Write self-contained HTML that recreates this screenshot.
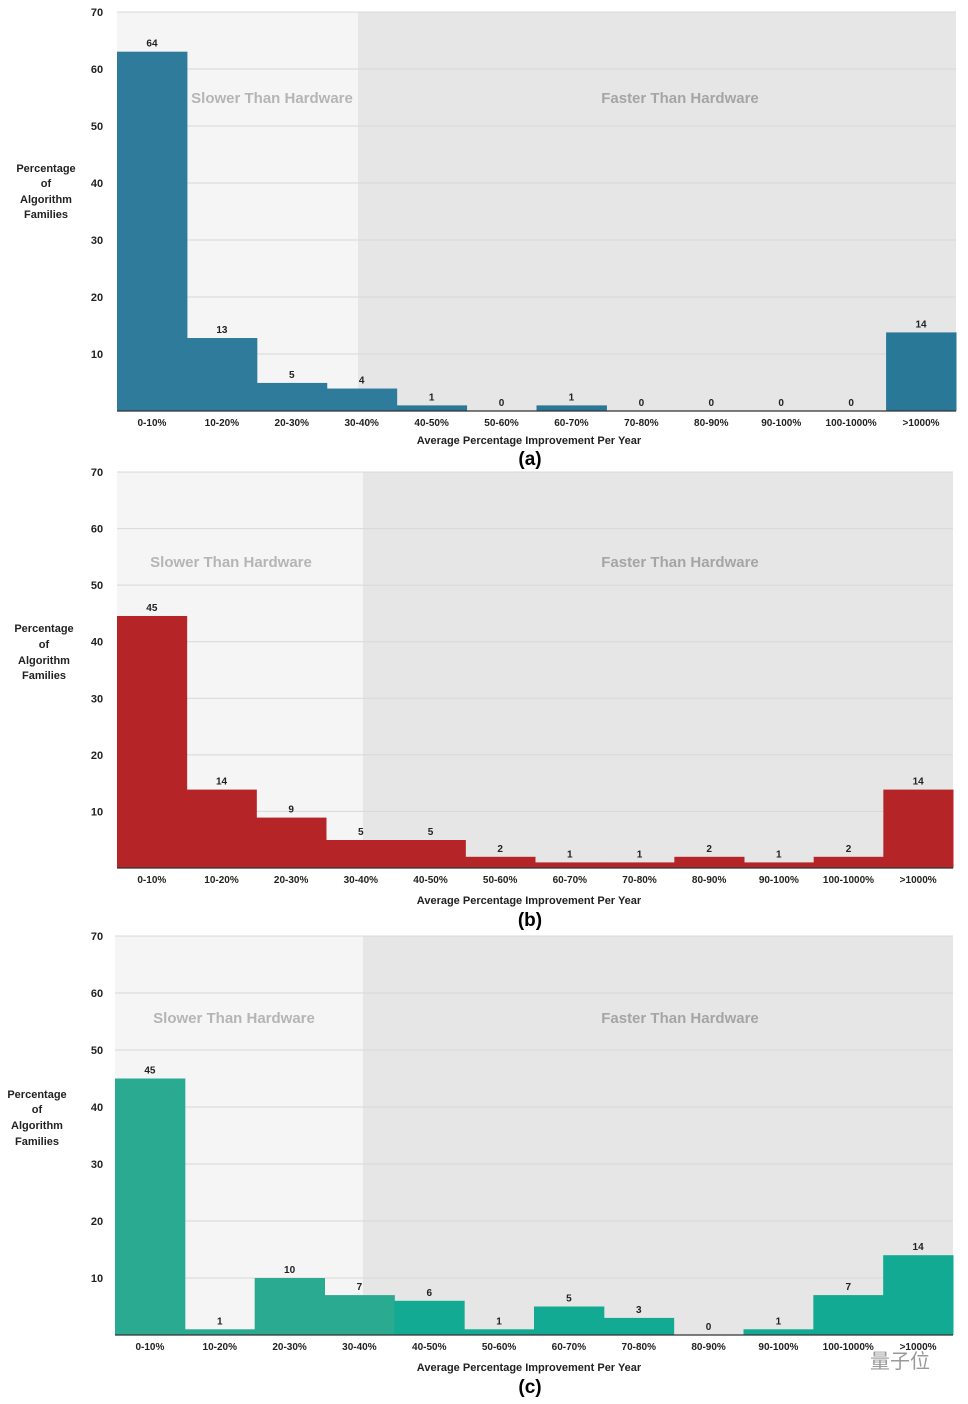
<!DOCTYPE html>
<html><head><meta charset="utf-8">
<style>
html,body{margin:0;padding:0;background:#fff;}
svg{display:block;font-family:"Liberation Sans",sans-serif;}
</style></head>
<body>
<svg id="s" width="968" height="1404" viewBox="0 0 968 1404" xmlns="http://www.w3.org/2000/svg"></svg>
<script>
var P=[
 {top:12,base:411,x0:117,x1:956,split:358,col:"#2e7b9b",col2:"#2a7897",bf:0.985,vals:[64,13,5,4,1,0,1,0,0,0,0,14],cy:422,ty:440,lab:"(a)",ly:459,sy:98,sx:272,yt:[168,183,199,214],ytx:46},
 {top:472,base:868,x0:117,x1:953,split:363,col:"#b52528",col2:"#b52528",bf:0.99,vals:[45,14,9,5,5,2,1,1,2,1,2,14],cy:879,ty:900,lab:"(b)",ly:920,sy:562,sx:231,yt:[628,644,660,675],ytx:44},
 {top:936,base:1335,x0:115,x1:953,split:363,col:"#2aaa90",col2:"#12aa92",bf:1,vals:[45,1,10,7,6,1,5,3,0,1,7,14],cy:1346,ty:1367,lab:"(c)",ly:1387,sy:1018,sx:234,yt:[1094,1109,1125,1141],ytx:37}
];
var cats=["0-10%","10-20%","20-30%","30-40%","40-50%","50-60%","60-70%","70-80%","80-90%","90-100%","100-1000%",">1000%"];
var h="";
P.forEach(function(p){
 var k=(p.base-p.top)/70, w=(p.x1-p.x0)/12;
 h+='<rect x="'+p.x0+'" y="'+p.top+'" width="'+(p.split-p.x0)+'" height="'+(p.base-p.top)+'" fill="#f5f5f5"/>';
 h+='<rect x="'+p.split+'" y="'+p.top+'" width="'+(p.x1-p.split)+'" height="'+(p.base-p.top)+'" fill="#e6e6e6"/>';
 for(var t=10;t<=70;t+=10){var y=p.base-t*k;
  h+='<line x1="'+p.x0+'" x2="'+p.x1+'" y1="'+y+'" y2="'+y+'" stroke="#d8d8d8" stroke-width="1"/>';
  h+='<text x="97" y="'+(y+4)+'" font-size="11" font-weight="bold" text-anchor="middle" fill="#222">'+t+'</text>';}
 h+='<text x="'+p.sx+'" y="'+(p.sy+5)+'" font-size="15" font-weight="bold" text-anchor="middle" fill="#b5b5b5">Slower Than Hardware</text>';
 h+='<text x="680" y="'+(p.sy+5)+'" font-size="15" font-weight="bold" text-anchor="middle" fill="#a5a5a5">Faster Than Hardware</text>';
 p.vals.forEach(function(v,i){var x=p.x0+i*w,bh=v*k*p.bf,y=p.base-bh;
  if(v>0)h+='<rect x="'+x+'" y="'+y+'" width="'+(w+0.5)+'" height="'+bh+'" fill="'+(x<p.split?p.col:p.col2)+'"/>';
  h+='<text x="'+(x+w/2)+'" y="'+(y-5)+'" font-size="10" font-weight="bold" text-anchor="middle" fill="#222">'+v+'</text>';
  h+='<text x="'+(x+w/2)+'" y="'+(p.cy+4)+'" font-size="10" font-weight="bold" text-anchor="middle" fill="#222">'+cats[i]+'</text>';});
 h+='<line x1="'+p.x0+'" x2="'+p.x1+'" y1="'+p.base+'" y2="'+p.base+'" stroke="#333" stroke-width="1.2"/>';
 h+='<text x="529" y="'+(p.ty+4)+'" font-size="11" font-weight="bold" text-anchor="middle" fill="#222">Average Percentage Improvement Per Year</text>';
 h+='<text x="530" y="'+(p.ly+6)+'" font-size="19" font-weight="bold" text-anchor="middle" fill="#000">'+p.lab+'</text>';
 ["Percentage","of","Algorithm","Families"].forEach(function(s,j){
  h+='<text x="'+p.ytx+'" y="'+(p.yt[j]+4)+'" font-size="11" font-weight="bold" text-anchor="middle" fill="#222">'+s+'</text>';});
});
h+='<text x="900" y="1368" font-size="20" text-anchor="middle" fill="#999" font-family="Noto Sans CJK SC,sans-serif">量子位</text>';
document.getElementById("s").innerHTML=h;
</script>
</body></html>
